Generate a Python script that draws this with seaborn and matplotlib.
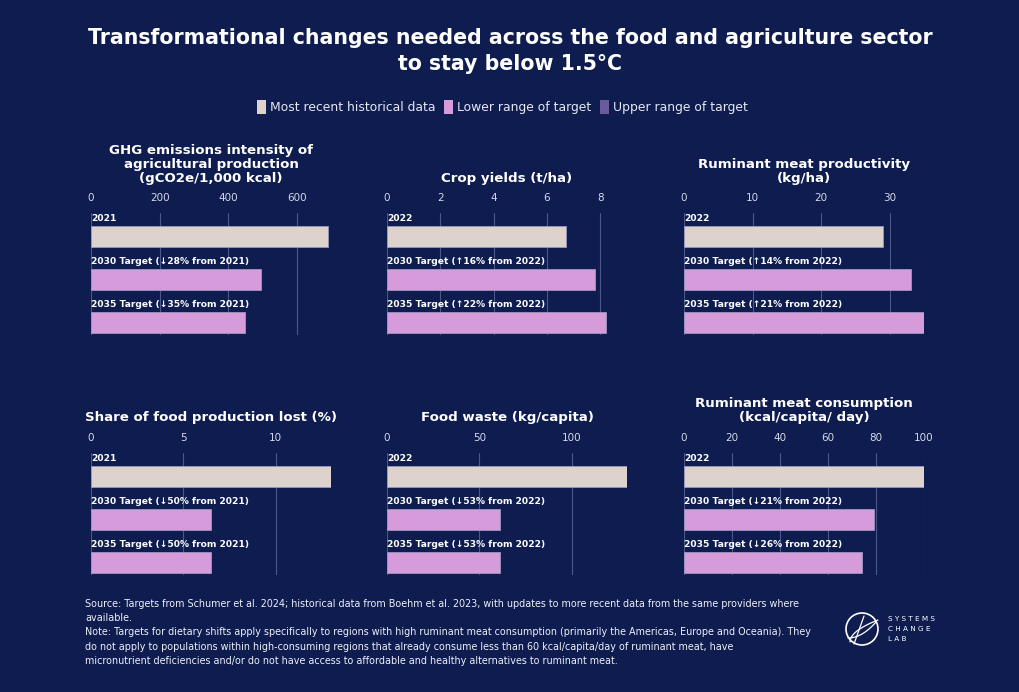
import numpy as np
import pandas as pd
import matplotlib
matplotlib.use("Agg")
import matplotlib.pyplot as plt
from matplotlib.patches import Patch, Circle
import seaborn as sns

# ---------------- data ----------------
titles = [
    "GHG emissions intensity of\nagricultural production\n(gCO2e/1,000 kcal)",
    "Crop yields (t/ha)",
    "Ruminant meat productivity\n(kg/ha)",
    "Share of food production lost (%)",
    "Food waste (kg/capita)",
    "Ruminant meat consumption\n(kcal/capita/ day)",
]
labels_ghg = ["2021", "2030 Target (↓28% from 2021)", "2035 Target (↓35% from 2021)"]
labels_crop = ["2022", "2030 Target (↑16% from 2022)", "2035 Target (↑22% from 2022)"]
labels_rprod = ["2022", "2030 Target (↑14% from 2022)", "2035 Target (↑21% from 2022)"]
labels_loss = ["2021", "2030 Target (↓50% from 2021)", "2035 Target (↓50% from 2021)"]
labels_waste = ["2022", "2030 Target (↓53% from 2022)", "2035 Target (↓53% from 2022)"]
labels_rcons = ["2022", "2030 Target (↓21% from 2022)", "2035 Target (↓26% from 2022)"]

values_ghg = [690, 497, 449]
values_crop = [6.7, 7.8, 8.2]
values_rprod = [29.0, 33.1, 35.1]
values_loss = [13.0, 6.5, 6.5]
values_waste = [130, 61, 61]
values_rcons = [100, 79, 74]

ticks_ghg = [0, 200, 400, 600]
ticks_crop = [0, 2, 4, 6, 8]
ticks_rprod = [0, 10, 20, 30]
ticks_loss = [0, 5, 10]
ticks_waste = [0, 50, 100]
ticks_rcons = [0, 20, 40, 60, 80, 100]

xmax = [700, 9, 35, 13, 130, 100]

series_kind = ["Most recent historical data", "Lower range of target", "Lower range of target"]
legend_labels = ["Most recent historical data", "Lower range of target", "Upper range of target"]

source_text = ("Source: Targets from Schumer et al. 2024; historical data from Boehm et al. 2023, with updates to more recent data from the same providers where\n"
               "available.\n"
               "Note: Targets for dietary shifts apply specifically to regions with high ruminant meat consumption (primarily the Americas, Europe and Oceania). They\n"
               "do not apply to populations within high-consuming regions that already consume less than 60 kcal/capita/day of ruminant meat, have\n"
               "micronutrient deficiencies and/or do not have access to affordable and healthy alternatives to ruminant meat.")

# ---------------- style ----------------
BG = "#0E1C50"
HIST = "#DDD3CC"
LOW = "#D69BDB"
UP = "#6B5B9C"
TXT = "#FFFFFF"
TICK = "#D5D9EA"
GRID = "#4C5789"

sns.set_theme(style="dark")
plt.rcParams['font.family'] = ['DejaVu Sans']

W, H = 1020, 692
fig = plt.figure(figsize=(W / 100, H / 100), dpi=100, facecolor=BG)

def fx(px):
    return px / W

def fy(py):
    return 1 - py / H

palette = {legend_labels[0]: HIST, legend_labels[1]: LOW, legend_labels[2]: UP}

panels = [
    (labels_ghg, values_ghg, ticks_ghg),
    (labels_crop, values_crop, ticks_crop),
    (labels_rprod, values_rprod, ticks_rprod),
    (labels_loss, values_loss, ticks_loss),
    (labels_waste, values_waste, ticks_waste),
    (labels_rcons, values_rcons, ticks_rcons),
]

col_left = [91, 387, 684]
row_top = [213, 453]
ax_w, ax_h = 240, 122

for i, (labs, vals, ticks) in enumerate(panels):
    r, c = divmod(i, 3)
    ax = fig.add_axes([fx(col_left[c]), fy(row_top[r] + ax_h), ax_w / W, ax_h / H])
    ax.set_facecolor(BG)
    df = pd.DataFrame({"label": labs, "value": vals, "kind": series_kind})
    sns.barplot(data=df, x="value", y="label", hue="kind", palette=palette,
                orient="h", width=0.49, dodge=False, legend=False, ax=ax, saturation=1,
                edgecolor="#9A97BE", linewidth=0.6, zorder=3)
    ax.set_xlim(0, xmax[i])
    ax.set_ylim(2.3, -0.55)
    ax.set_xticks(ticks)
    ax.xaxis.tick_top()
    ax.tick_params(axis="x", length=0, pad=7, labelsize=7.5, labelcolor=TICK)
    ax.set_yticks([])
    ax.set_xlabel("")
    ax.set_ylabel("")
    ax.grid(axis="x", color=GRID, linewidth=0.8, zorder=0)
    ax.grid(axis="y", visible=False)
    for s in ax.spines.values():
        s.set_visible(False)
    for j, lab in enumerate(labs):
        ax.annotate(lab, xy=(0, j - 0.245), xytext=(0, 2.2), textcoords="offset points",
                    ha="left", va="bottom", fontsize=6.6, fontweight="bold", color=TXT,
                    zorder=5, annotation_clip=False)
    # panel title
    title_bottom = 185 if r == 0 else 424
    fig.text(fx(col_left[c] + ax_w / 2), fy(title_bottom), titles[i], ha="center", va="bottom",
             fontsize=9.6, fontweight="bold", color=TXT, linespacing=1.12)

# main title
fig.text(0.5, fy(51), "Transformational changes needed across the food and agriculture sector\nto stay below 1.5°C",
         ha="center", va="center", fontsize=14.8, fontweight="bold", color=TXT, linespacing=1.38)

# legend
handles = [Patch(facecolor=palette[l], edgecolor="none", label=l) for l in legend_labels]
leg = fig.legend(handles=handles, loc="center", bbox_to_anchor=(fx(502), fy(107)), ncol=3, frameon=False,
                 fontsize=8.9, handlelength=0.75, handleheight=1.3, handletextpad=0.3, columnspacing=0.7)
for t in leg.get_texts():
    t.set_color("#E6E8F2")

# footer
fig.text(fx(85), fy(599), source_text, ha="left", va="top", fontsize=6.9, color="#EEF0F7", linespacing=1.53)

# logo
lax = fig.add_axes([fx(840), fy(652), 100 / W, 46 / H])
lax.set_xlim(0, 100)
lax.set_ylim(0, 46)
lax.axis("off")
lax.add_patch(Circle((22, 23), 16, fill=False, edgecolor="white", linewidth=1.2))
tt = np.linspace(0, 1, 50)
lax.plot(8 + 28 * tt, 14 + 16 * tt ** 2, color="white", linewidth=0.9)
lax.plot(10 + 28 * tt, 10 + 22 * np.sqrt(tt), color="white", linewidth=0.9)
lax.plot(14 + 10 * tt, 8 + 28 * tt, color="white", linewidth=0.9)
lax.text(48, 33, "S Y S T E M S", fontsize=5.2, color="white", va="center", ha="left")
lax.text(48, 23, "C H A N G E", fontsize=5.2, color="white", va="center", ha="left")
lax.text(48, 13, "L A B", fontsize=5.2, color="white", va="center", ha="left")

fig.savefig("out.png", dpi=100, facecolor=BG)
